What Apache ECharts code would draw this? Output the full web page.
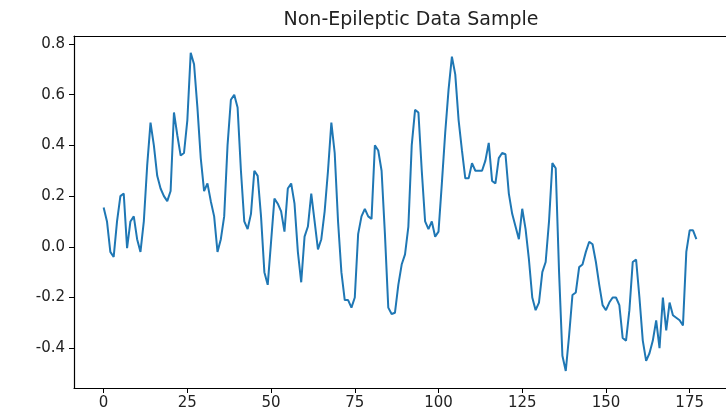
<!DOCTYPE html>
<html>
<head>
<meta charset="utf-8">
<script src="https://cdn.jsdelivr.net/npm/echarts@6/dist/echarts.min.js"></script>
<style>
  html, body { margin: 0; padding: 0; background: #ffffff; }
  #chart { width: 726px; height: 414px; }
</style>
</head>
<body>
<div id="chart"></div>
<script>
// Sample index (0..177) and signal values
const sampleValues = [
  0.155, 0.10, -0.02, -0.04, 0.10, 0.20, 0.21, -0.005, 0.10, 0.12,
  0.03, -0.02, 0.10, 0.32, 0.49, 0.40, 0.28, 0.23, 0.20, 0.18,
  0.22, 0.53, 0.44, 0.36, 0.37, 0.50, 0.765, 0.72, 0.55, 0.35,
  0.22, 0.25, 0.18, 0.12, -0.02, 0.03, 0.12, 0.40, 0.58, 0.60,
  0.55, 0.30, 0.10, 0.07, 0.13, 0.30, 0.28, 0.12, -0.10, -0.15,
  0.02, 0.19, 0.17, 0.14, 0.06, 0.23, 0.25, 0.17, -0.02, -0.14,
  0.04, 0.08, 0.21, 0.10, -0.01, 0.03, 0.14, 0.30, 0.49, 0.37,
  0.10, -0.10, -0.21, -0.21, -0.24, -0.20, 0.05, 0.12, 0.15, 0.12,
  0.11, 0.40, 0.38, 0.30, 0.05, -0.24, -0.265, -0.26, -0.15, -0.07,
  -0.03, 0.08, 0.40, 0.54, 0.53, 0.30, 0.10, 0.07, 0.10, 0.04,
  0.06, 0.25, 0.45, 0.62, 0.75, 0.68, 0.50, 0.38, 0.27, 0.27,
  0.33, 0.30, 0.30, 0.30, 0.34, 0.41, 0.26, 0.25, 0.35, 0.37,
  0.365, 0.21, 0.13, 0.08, 0.03, 0.15, 0.07, -0.05, -0.20, -0.25,
  -0.22, -0.10, -0.06, 0.10, 0.33, 0.31, -0.10, -0.43, -0.49, -0.35,
  -0.19, -0.18, -0.08, -0.07, -0.02, 0.02, 0.01, -0.06, -0.15, -0.23,
  -0.25, -0.22, -0.20, -0.20, -0.23, -0.36, -0.37, -0.25, -0.06, -0.05,
  -0.20, -0.37, -0.45, -0.42, -0.37, -0.29, -0.40, -0.20, -0.33, -0.22,
  -0.27, -0.28, -0.29, -0.31, -0.02, 0.065, 0.065, 0.03
];
const xTickValues = [0, 25, 50, 75, 100, 125, 150, 175];
const yTickValues = [-0.4, -0.2, 0.0, 0.2, 0.4, 0.6, 0.8];
const chartTitle = 'Non-Epileptic Data Sample';

const seriesData = sampleValues.map((v, i) => [i, v]);

const chart = echarts.init(document.getElementById('chart'), null, { renderer: 'canvas' });
const axisFont = { fontFamily: 'DejaVu Sans', fontSize: 15, color: '#222' };
const spine = { show: true, onZero: false, lineStyle: { color: '#000', width: 1.2 } };

chart.setOption({
  animation: false,
  backgroundColor: '#ffffff',
  title: {
    text: chartTitle,
    left: 406, top: 6, textAlign: 'center',
    textStyle: { fontFamily: 'DejaVu Sans', fontSize: 19, fontWeight: 'normal', color: '#222' }
  },
  grid: { left: 74, top: 36, right: -13, bottom: 26, containLabel: false },
  xAxis: [{
    type: 'value', min: -8.85, max: 185.85, position: 'bottom',
    axisLine: spine,
    axisTick: { show: true, inside: false, length: 5, lineStyle: { color: '#000' }, customValues: xTickValues },
    axisLabel: { ...axisFont, margin: 8, customValues: xTickValues, formatter: v => String(v) },
    splitLine: { show: false }
  }, {
    type: 'value', min: -8.85, max: 185.85, position: 'top',
    axisLine: spine, axisTick: { show: false }, axisLabel: { show: false }, splitLine: { show: false }
  }],
  yAxis: {
    type: 'value', min: -0.557, max: 0.8316,
    axisLine: spine,
    axisTick: { show: true, inside: false, length: 5, lineStyle: { color: '#000' }, customValues: yTickValues },
    axisLabel: { ...axisFont, margin: 9, customValues: yTickValues, formatter: v => v.toFixed(1) },
    splitLine: { show: false }
  },
  series: [{
    type: 'line',
    xAxisIndex: 0,
    data: seriesData,
    showSymbol: false,
    smooth: false,
    lineStyle: { color: '#1f77b4', width: 2 },
    itemStyle: { color: '#1f77b4' }
  }]
});
</script>
</body>
</html>
